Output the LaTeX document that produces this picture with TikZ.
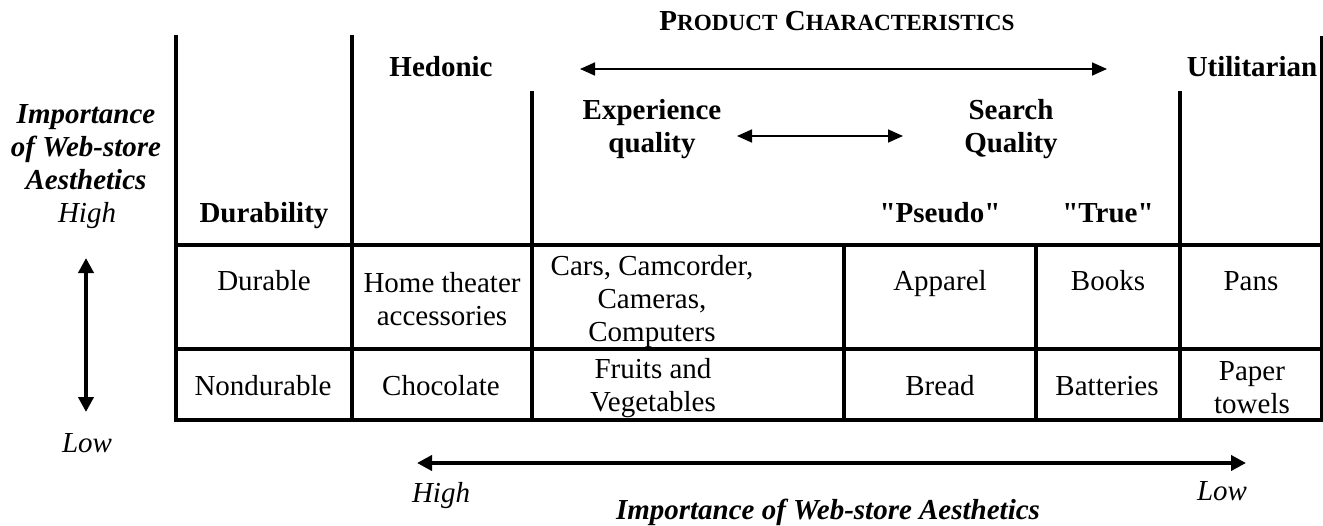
\documentclass[tikz,border=0pt]{standalone}
\usepackage{fontspec}
\setmainfont{Liberation Serif}[Ligatures=TeXOff]
\usetikzlibrary{arrows.meta}
\newcommand\mysc[2]{{\fontsize{29}{33}\selectfont #1}{\fontsize{23.2}{33}\selectfont #2}}
\begin{document}
\begin{tikzpicture}[x=1pt,y=-1pt,
  txt/.style={inner sep=0pt,font=\fontsize{29}{33}\selectfont,align=center},
  hdr/.style={txt,font=\fontsize{29}{33}\selectfont\bfseries},
  axis/.style={txt,font=\fontsize{29}{33}\selectfont\itshape},
  axtitle/.style={txt,font=\fontsize{29}{33}\selectfont\bfseries\itshape},
  grid/.style={line width=3.4pt,line cap=rect},
  thinarrow/.style={line width=1.7pt,{Triangle[length=15pt,width=13pt]}-{Triangle[length=15pt,width=13pt]}},
  thickarrow/.style={line width=4pt,{Triangle[length=15pt,width=15pt]}-{Triangle[length=15pt,width=15pt]}}]
\useasboundingbox (0,0) rectangle (1323,525);

% table grid
\draw[grid] (176,37) -- (176,420);
\draw[grid] (352,37) -- (352,420);
\draw[grid] (532,93) -- (532,420);
\draw[grid] (844,245) -- (844,420);
\draw[grid] (1036,245) -- (1036,420);
\draw[grid] (1180,93) -- (1180,420);
\draw[grid] (1322,38) -- (1322,420);
\draw[grid] (176,245) -- (1323,245);
\draw[grid] (176,349) -- (1323,349);
\draw[grid] (176,420) -- (1323,420);

% header texts
\node[hdr,anchor=base] (title) at (837,30) {\mysc{P}{RODUCT} \mysc{C}{HARACTERISTICS}};
\node[hdr,anchor=base] (hed) at (441,76) {Hedonic};
\node[hdr,anchor=base] (util) at (1252,76) {Utilitarian};
\node[hdr] (exp) at (652,129) {Experience\\quality};
\node[hdr] (search) at (1011,129) {Search\\Quality};
\node[hdr,anchor=base] (dur) at (264,222) {Durability};
\node[hdr,anchor=base] (pseudo) at (940,222) {"Pseudo"};
\node[hdr,anchor=base] (true) at (1108,222) {"True"};

% row 1
\node[txt,anchor=base] (c11) at (264,290) {Durable};
\node[txt] (c12) at (442,299) {Home theater\\accessories};
\node[txt] (c13) at (652,302) {Cars, Camcorder,\\Cameras,\\Computers};
\node[txt,anchor=base] (c14) at (940,290) {Apparel};
\node[txt,anchor=base] (c15) at (1108,290) {Books};
\node[txt,anchor=base] (c16) at (1251,290) {Pans};
% row 2
\node[txt,anchor=base] (c21) at (263,395) {Nondurable};
\node[txt,anchor=base] (c22) at (441,395) {Chocolate};
\node[txt] (c23) at (653,388) {Fruits and\\Vegetables};
\node[txt,anchor=base] (c24) at (940,395) {Bread};
\node[txt,anchor=base] (c25) at (1107,395) {Batteries};
\node[txt] (c26) at (1252,388) {Paper\\towels};

% left axis
\node[axtitle] (ltitle) at (86,147) {Importance\\of Web-store\\Aesthetics};
\node[axis,anchor=base] (lhigh) at (87,222) {High};
\node[axis,anchor=base] (llow) at (87,452) {Low};
% bottom axis
\node[axis,anchor=base] (bhigh) at (441,502) {High};
\node[axis,anchor=base] (blow) at (1222,500) {Low};
\node[axtitle,anchor=base] (btitle) at (828,519) {Importance of Web-store Aesthetics};

% arrows
\coordinate (ta1) at (580,69);
\coordinate (ta2) at (1107,69);
\coordinate (ma1) at (737,136);
\coordinate (ma2) at (903,136);
\coordinate (va1) at (86,258);
\coordinate (va2) at (86,412);
\coordinate (ba1) at (417,463);
\coordinate (ba2) at (1246,463);
\draw[thinarrow] (ta1) -- (ta2);
\draw[thinarrow] (ma1) -- (ma2);
\draw[thickarrow] (va1) -- (va2);
\draw[thickarrow] (ba1) -- (ba2);
\end{tikzpicture}
\end{document}
